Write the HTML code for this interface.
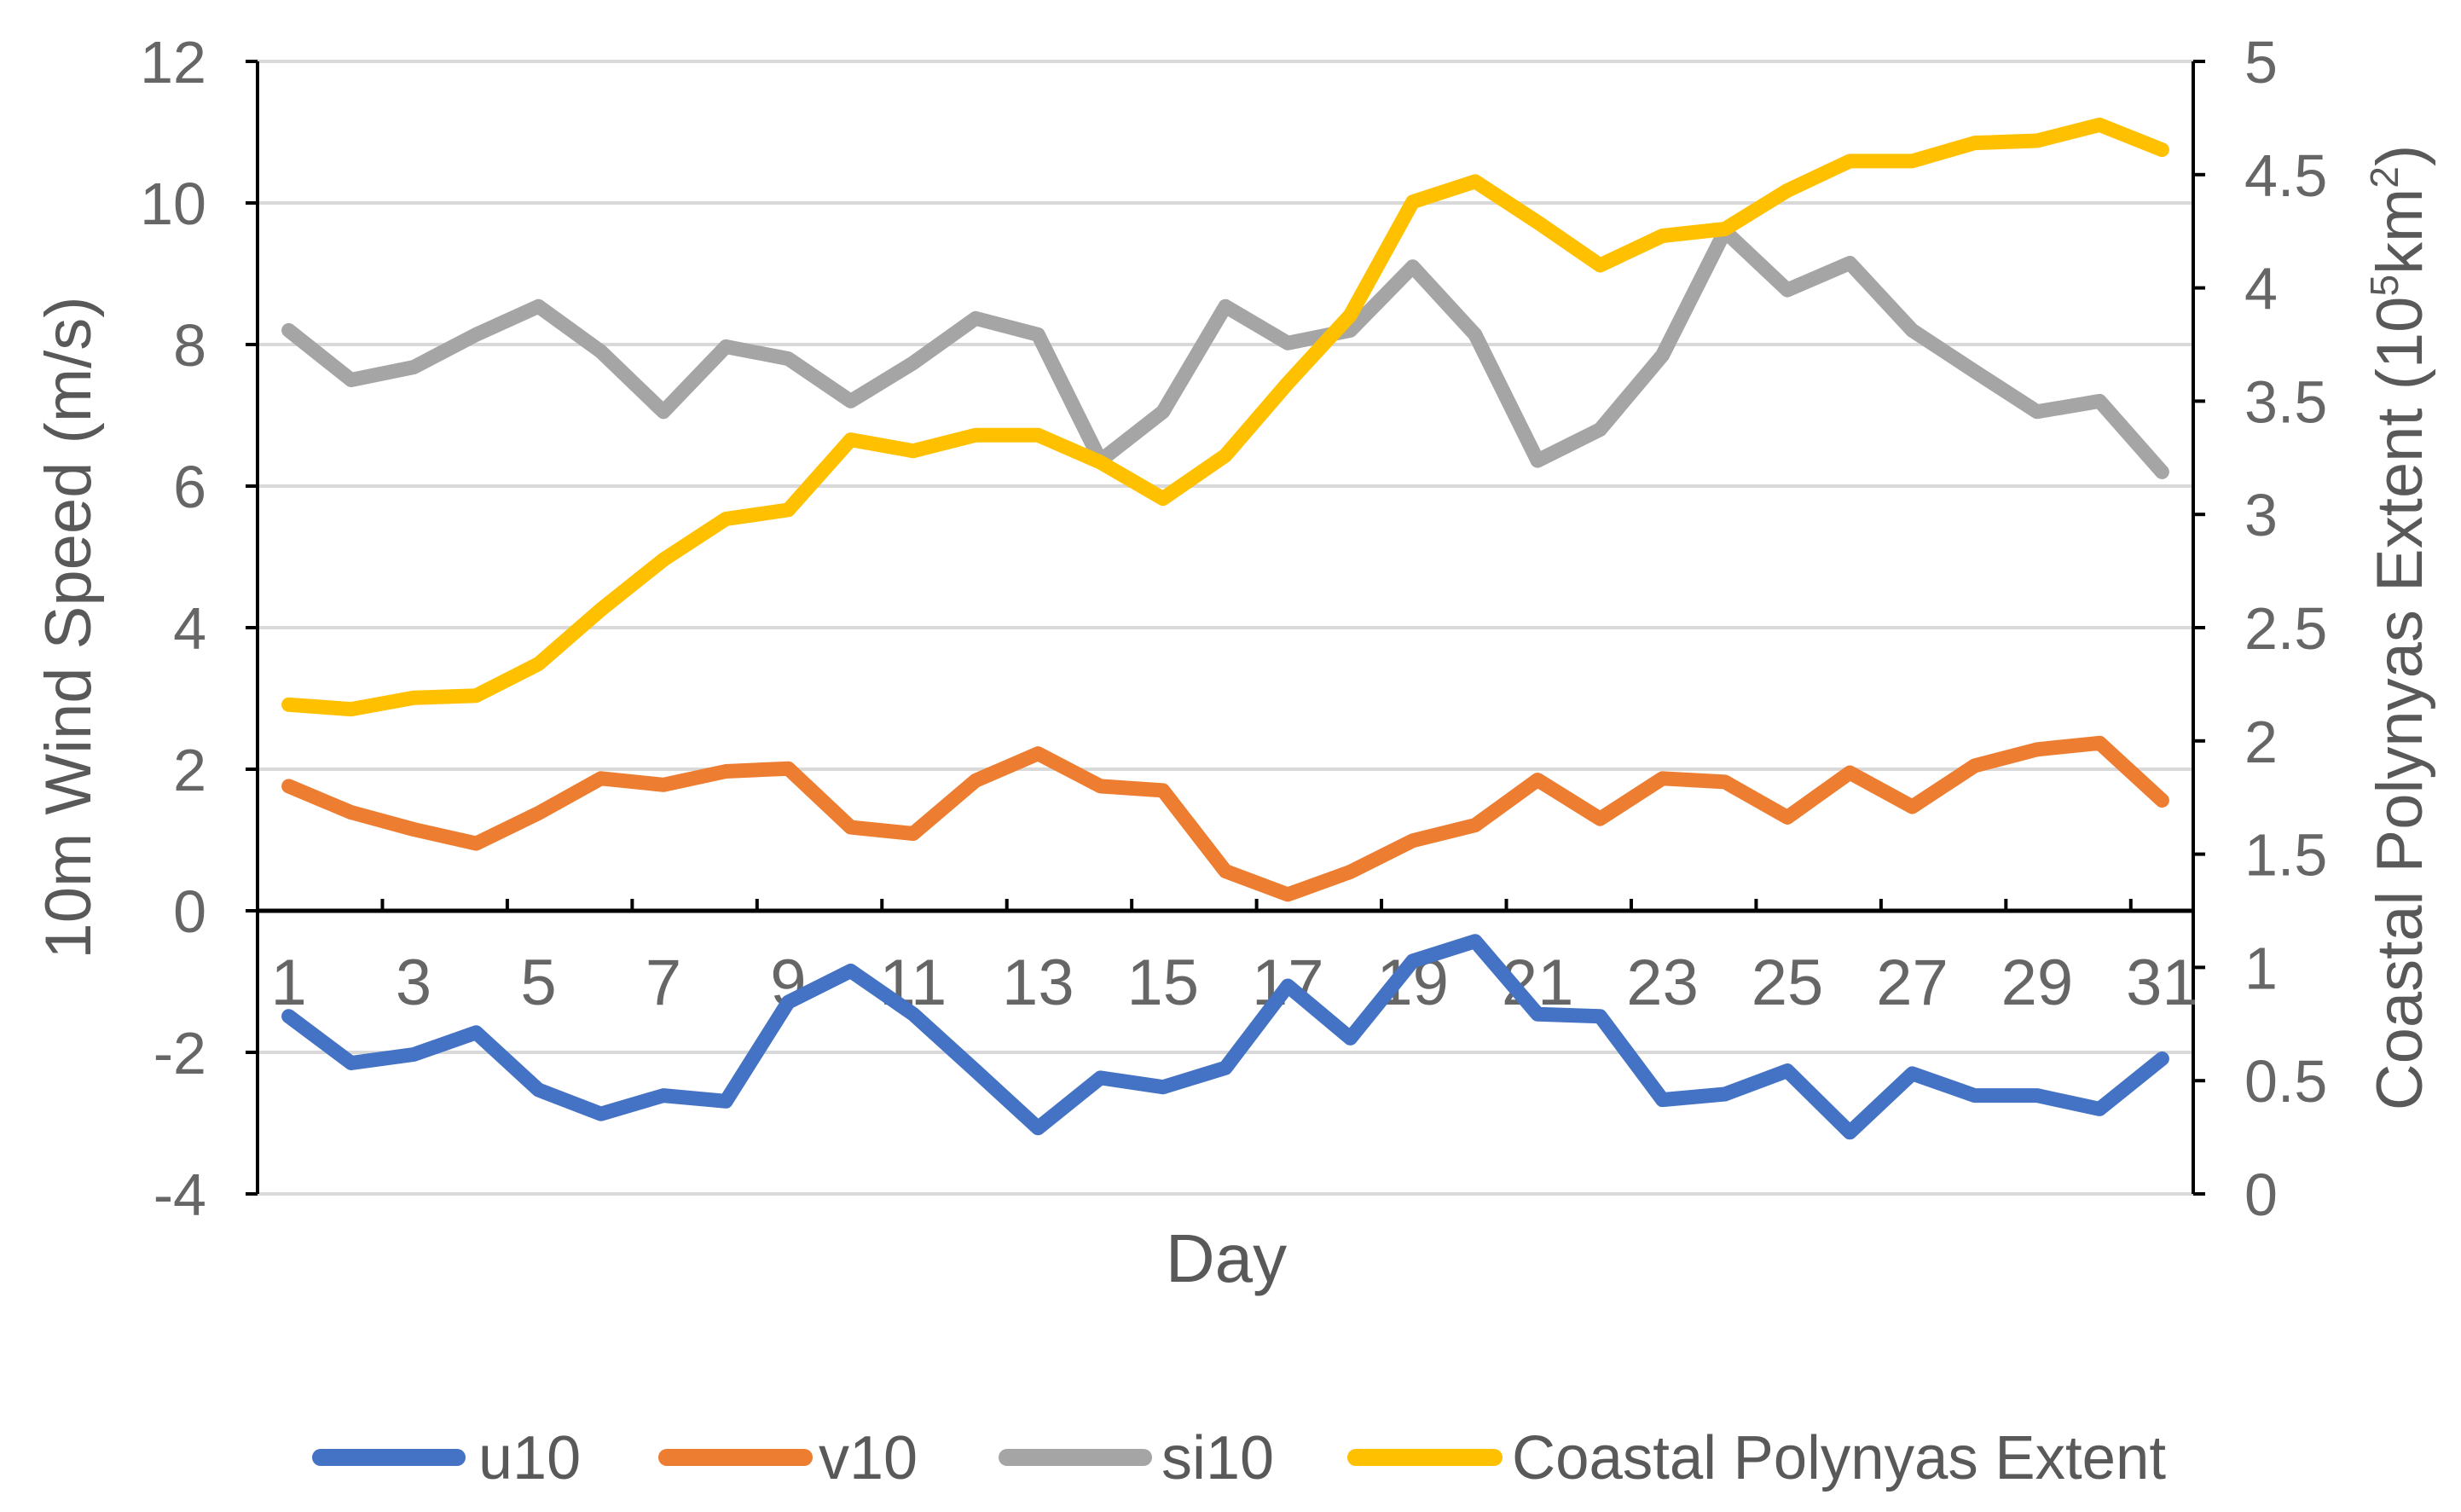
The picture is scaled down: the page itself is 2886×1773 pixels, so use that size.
<!DOCTYPE html>
<html><head><meta charset="utf-8"><style>html,body{margin:0;padding:0;background:#fff}svg{display:block}</style></head>
<body>
<svg id="chart" width="2886" height="1773" viewBox="0 0 2886 1773" xmlns="http://www.w3.org/2000/svg" font-family="Liberation Sans, sans-serif">
<g id="grid"></g>
<g id="axes"></g>
<g id="series"></g>
<text x="1438" y="1503" font-size="80" fill="#595959" text-anchor="middle">Day</text>
<text transform="translate(106,736) rotate(-90)" font-size="76" fill="#595959" text-anchor="middle">10m Wind Speed (m/s)</text>
<text transform="translate(2840,736) rotate(-90)" font-size="76" fill="#595959" text-anchor="middle">Coastal Polynyas Extent (10<tspan dy="-28" font-size="46">5</tspan><tspan dy="28">km</tspan><tspan dy="-28" font-size="46">2</tspan><tspan dy="28">)</tspan></text>
<g>
<line x1="376" y1="1709" x2="536" y2="1709" stroke="#4472C4" stroke-width="20" stroke-linecap="round"/>
<text x="561" y="1734" font-size="72" fill="#595959">u10</text>
<line x1="782" y1="1709" x2="943" y2="1709" stroke="#ED7D31" stroke-width="20" stroke-linecap="round"/>
<text x="960" y="1734" font-size="72" fill="#595959">v10</text>
<line x1="1181" y1="1709" x2="1341" y2="1709" stroke="#A5A5A5" stroke-width="20" stroke-linecap="round"/>
<text x="1362" y="1734" font-size="72" fill="#595959">si10</text>
<line x1="1590" y1="1709" x2="1752" y2="1709" stroke="#FFC000" stroke-width="20" stroke-linecap="round"/>
<text x="1773" y="1734" font-size="72" fill="#595959" textLength="767" lengthAdjust="spacingAndGlyphs">Coastal Polynyas Extent</text>
</g>
</svg>
<script>
const days = [1,2,3,4,5,6,7,8,9,10,11,12,13,14,15,16,17,18,19,20,21,22,23,24,25,26,27,28,29,30,31];
const u10 = [-1.49,-2.15,-2.03,-1.72,-2.53,-2.87,-2.61,-2.69,-1.29,-0.85,-1.46,-2.26,-3.07,-2.36,-2.49,-2.22,-1.06,-1.8,-0.71,-0.43,-1.46,-1.49,-2.67,-2.59,-2.26,-3.13,-2.3,-2.61,-2.61,-2.8,-2.09];
const v10 = [1.76,1.39,1.15,0.95,1.38,1.87,1.78,1.97,2.01,1.18,1.09,1.84,2.22,1.76,1.7,0.56,0.23,0.55,0.99,1.21,1.85,1.3,1.87,1.82,1.32,1.95,1.47,2.05,2.28,2.37,1.56];
const si10 = [8.2,7.5,7.68,8.14,8.54,7.9,7.05,7.97,7.8,7.2,7.74,8.37,8.14,6.36,7.05,8.54,8.02,8.2,9.1,8.14,6.36,6.8,7.85,9.6,8.77,9.15,8.2,7.62,7.05,7.2,6.2];
const polynya = [2.16,2.14,2.19,2.2,2.34,2.58,2.8,2.98,3.02,3.33,3.28,3.35,3.35,3.23,3.07,3.26,3.58,3.88,4.38,4.47,4.29,4.1,4.23,4.26,4.43,4.56,4.56,4.64,4.65,4.72,4.61];
const leftTicks = [12,10,8,6,4,2,0,-2,-4];
const rightTicks = [5,4.5,4,3.5,3,2.5,2,1.5,1,0.5,0];

const NS = 'http://www.w3.org/2000/svg';
const X0 = 302, X1 = 2572, YT = 72, YB = 1400;
const catW = (X1 - X0) / days.length;
const xPos = i => X0 + catW * (i + 0.5);
const yL = v => YB - (v - (-4)) / 16 * (YB - YT);
const yR = v => YB - v / 5 * (YB - YT);
function mk(tag, attrs, parent){const e=document.createElementNS(NS,tag);for(const k in attrs)e.setAttribute(k,attrs[k]);parent.appendChild(e);return e;}
const grid = document.getElementById('grid'), axes = document.getElementById('axes'), series = document.getElementById('series');

leftTicks.forEach(t => {
  const y = yL(t);
  if (t !== 0) {
    const g = mk('line', {x1:X0, x2:X1, y1:y, y2:y, stroke:'#d9d9d9', 'stroke-width':4}, grid);
    
    
  }
  const tk = mk('line', {x1:X0-14, x2:X0, y1:y, y2:y, stroke:'#000', 'stroke-width':4}, axes);
  
  
  const lb = mk('text', {x:X0-60, y:y+25, 'font-size':70, fill:'#666666', 'text-anchor':'end'}, axes);
  
  
  lb.textContent = t;
});
rightTicks.forEach(t => {
  const y = yR(t);
  const tk = mk('line', {x1:X1, x2:X1+14, y1:y, y2:y, stroke:'#000', 'stroke-width':4}, axes);
  
  
  const lb = mk('text', {x:2632, y:y+25, 'font-size':70, fill:'#666666'}, axes);
  
  
  lb.textContent = t;
});
const la = mk('line', {x1:X0, x2:X0, y1:YT, y2:YB, stroke:'#000', 'stroke-width':4}, axes);


const ra = mk('line', {x1:X1, x2:X1, y1:YT, y2:YB, stroke:'#000', 'stroke-width':4}, axes);


const y0 = yL(0);
const xa = mk('line', {x1:X0, x2:X1, y1:y0, y2:y0, stroke:'#000', 'stroke-width':5}, axes);


for (let k = 2; k < days.length; k += 2) {
  const x = X0 + catW * k;
  const tk = mk('line', {x1:x, x2:x, y1:y0-14, y2:y0, stroke:'#000', 'stroke-width':4}, axes);
  
  
}
days.forEach((d, i) => {
  if (i % 2 !== 0) return;
  const lb = mk('text', {x:xPos(i), y:y0+110, 'font-size':76, fill:'#666666', 'text-anchor':'middle'}, axes);
  
  
  lb.textContent = d;
});
function drawLine(vals, yf, color, name){
  const pts = vals.map((v,i) => xPos(i).toFixed(1)+','+yf(v).toFixed(1)).join(' ');
  const p = mk('polyline', {points:pts, fill:'none', stroke:color, 'stroke-width':17, 'stroke-linejoin':'round', 'stroke-linecap':'round'}, series);
  
  
}
drawLine(u10, yL, '#4472C4', 'u10-line');
drawLine(v10, yL, '#ED7D31', 'v10-line');
drawLine(si10, yL, '#A5A5A5', 'si10-line');
drawLine(polynya, yR, '#FFC000', 'polynya-extent-line');
</script>
</body></html>
